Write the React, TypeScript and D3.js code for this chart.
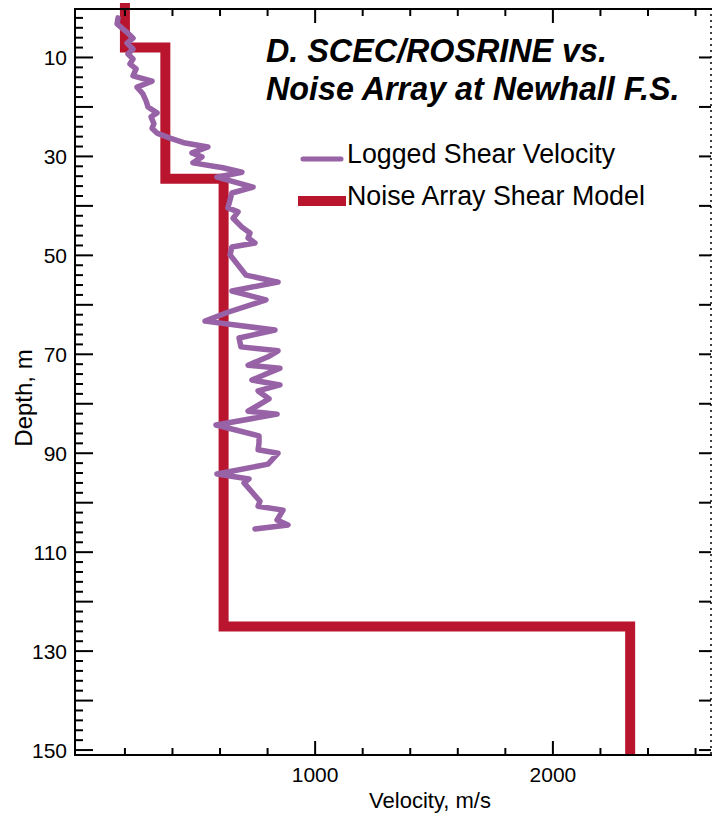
import * as React from 'react';
import * as d3 from 'd3';
import {useEffect, useRef} from 'react';

// logged shear velocity (m/s) vs depth (m)
const loggedDepth = [2.0, 3.2, 5.1, 6.1, 7.1, 8.3, 9.3, 10.3, 11.3, 12.3, 13.7, 14.8, 16.0, 17.4, 18.8, 20.0,
    21.2, 22.0, 23.4, 24.3, 25.3, 26.3, 27.3, 28.1, 29.3, 30.1, 31.3, 32.3, 33.2, 34.2, 34.8, 36.2, 37.4, 38.8,
    40.4, 41.2, 42.5, 44.3, 45.5, 46.5, 47.5, 48.3, 49.9, 54.0, 55.4, 57.2, 59.0, 61.5, 63.3, 65.1, 66.7, 68.5,
    69.3, 70.5, 72.2, 72.8, 75.2, 76.2, 77.4, 79.0, 81.5, 82.1, 84.3, 86.5, 87.9, 89.3, 90.0, 92.2, 94.2, 95.2,
    96.0, 99.7, 100.7, 101.5, 103.5, 104.5, 105.3];
const loggedVelocity = [171, 167, 213, 234, 209, 234, 213, 234, 221, 247, 234, 314, 251, 276, 289, 297,
    335, 310, 322, 314, 335, 390, 453, 549, 482, 524, 486, 612, 692, 587, 633, 739, 650, 642,
    633, 676, 655, 692, 726, 718, 747, 650, 642, 709, 844, 650, 793, 633, 537, 831, 680, 688,
    844, 802, 718, 852, 734, 852, 760, 806, 718, 840, 583, 764, 764, 760, 844, 802, 587, 722,
    701, 768, 760, 865, 840, 886, 747];

// noise array layered model
const modelLayerTop = [0, 8, 34.5, 125];
const modelVelocity = [200, 370, 615, 2325];
const modelBottom = 150;

const depthLabels = [10, 30, 50, 70, 90, 110, 130, 150];
const velocityLabels = [1000, 2000];

const titleLines = ['D. SCEC/ROSRINE vs.', 'Noise Array at Newhall F.S.'];
const seriesNames = ['Logged Shear Velocity', 'Noise Array Shear Model'];

const WIDTH = 712;
const HEIGHT = 815;
const plot = {left: 75, right: 711, top: 8, bottom: 755};
const FONT = '"Liberation Sans", Arial, Helvetica, sans-serif';
const PURPLE = '#9862a6';
const RED = '#b9152e';

function drawAxes(svg: any, x: any, y: any) {
    const g = svg.append('g').attr('stroke', '#000').attr('stroke-width', 2);
    // frame lines
    g.append('line').attr('x1', plot.left).attr('x2', plot.left).attr('y1', plot.top).attr('y2', plot.bottom + 1);
    g.append('line').attr('x1', plot.left - 1).attr('x2', WIDTH).attr('y1', plot.bottom).attr('y2', plot.bottom);
    g.append('line').attr('x1', plot.left - 1).attr('x2', WIDTH).attr('y1', plot.top + 1).attr('y2', plot.top + 1);
    g.append('line').attr('x1', plot.right).attr('x2', plot.right).attr('y1', plot.top).attr('y2', plot.bottom)
        .attr('stroke-width', 1.5).attr('stroke-dasharray', '2,4');

    // depth ticks
    const depthTicks = d3.range(2, 152, 2);
    g.selectAll('.ly').data(depthTicks).enter().append('line')
        .attr('x1', plot.left).attr('x2', (d: number) => plot.left + (d % 10 === 0 ? 18 : 8))
        .attr('y1', (d: number) => y(d)).attr('y2', (d: number) => y(d));
    g.selectAll('.ry').data(d3.range(10, 151, 10)).enter().append('line')
        .attr('x1', plot.right).attr('x2', plot.right - 12)
        .attr('y1', (d: number) => y(d)).attr('y2', (d: number) => y(d));

    // velocity ticks
    const velTicks = d3.range(200, 2700, 200);
    g.selectAll('.bx').data(velTicks).enter().append('line')
        .attr('x1', (d: number) => x(d)).attr('x2', (d: number) => x(d))
        .attr('y1', plot.bottom).attr('y2', (d: number) => plot.bottom - (d % 1000 === 0 ? 14 : 7));
    g.selectAll('.tx').data(velTicks).enter().append('line')
        .attr('x1', (d: number) => x(d)).attr('x2', (d: number) => x(d))
        .attr('y1', plot.top + 1).attr('y2', (d: number) => plot.top + 1 + (d % 1000 === 0 ? 14 : 7));

    const labels = svg.append('g').attr('font-family', FONT).attr('fill', '#000');
    labels.selectAll('.yl').data(depthLabels).enter().append('text')
        .attr('x', plot.left - 8).attr('y', (d: number) => y(d)).attr('dy', '0.36em')
        .attr('text-anchor', 'end').attr('font-size', 21).text((d: number) => d);
    labels.selectAll('.xl').data(velocityLabels).enter().append('text')
        .attr('x', (d: number) => x(d)).attr('y', 782)
        .attr('text-anchor', 'middle').attr('font-size', 21).text((d: number) => d);
    labels.append('text').attr('x', 430).attr('y', 808).attr('text-anchor', 'middle')
        .attr('font-size', 22).text('Velocity, m/s');
    labels.append('text').attr('transform', 'translate(32 398) rotate(-90)').attr('text-anchor', 'middle')
        .attr('font-size', 24).text('Depth, m');
}

function drawSeries(svg: any, x: any, y: any) {
    const modelPts: [number, number][] = [];
    modelLayerTop.forEach((top, i) => {
        const bottom = i < modelLayerTop.length - 1 ? modelLayerTop[i + 1] : modelBottom;
        modelPts.push([modelVelocity[i], top]);
        modelPts.push([modelVelocity[i], bottom]);
    });
    const line = d3.line<[number, number]>().x(d => x(d[0])).y(d => y(d[1]));
    svg.append('path').attr('d', line(modelPts)).attr('fill', 'none').attr('stroke', RED)
        .attr('stroke-width', 10).attr('stroke-linejoin', 'miter').attr('stroke-linecap', 'square');

    const loggedPts: [number, number][] = loggedDepth.map((d, i) => [loggedVelocity[i], d]);
    svg.append('path').attr('d', line(loggedPts)).attr('fill', 'none').attr('stroke', PURPLE)
        .attr('stroke-width', 5.5).attr('stroke-linejoin', 'round').attr('stroke-linecap', 'round');
}

function drawTitleAndLegend(svg: any) {
    svg.append('g').selectAll('text').data(titleLines).enter().append('text')
        .attr('x', 266).attr('y', (d: string, i: number) => 62 + i * 38)
        .attr('font-family', FONT).attr('font-size', 32.3).attr('font-weight', 'bold').attr('font-style', 'italic')
        .text((d: string) => d);

    const legend = svg.append('g');
    legend.append('line').attr('x1', 303).attr('x2', 341).attr('y1', 159).attr('y2', 159)
        .attr('stroke', PURPLE).attr('stroke-width', 5).attr('stroke-linecap', 'round');
    legend.append('line').attr('x1', 298).attr('x2', 346).attr('y1', 201).attr('y2', 201)
        .attr('stroke', RED).attr('stroke-width', 10);
    legend.selectAll('text').data(seriesNames).enter().append('text')
        .attr('x', 347).attr('y', (d: string, i: number) => 163 + i * 42)
        .attr('font-family', FONT).attr('font-size', 26.8).text((d: string) => d);
}

export default function App() {
    const svgRef = useRef<SVGSVGElement>(null);

    useEffect(() => {
        const svg = d3.select(svgRef.current);
        svg.selectAll('*').remove();
        const x = d3.scaleLinear().domain([-10, 2665]).range([plot.left, plot.right]);
        const y = d3.scaleLinear().domain([0, 151]).range([plot.top, plot.bottom]);
        drawSeries(svg, x, y);
        drawAxes(svg, x, y);
        drawTitleAndLegend(svg);
    }, []);

    return (
        <svg ref={svgRef} width={WIDTH} height={HEIGHT} viewBox={`0 0 ${WIDTH} ${HEIGHT}`}
             style={{position: 'absolute', left: 0, top: 0, display: 'block', background: '#fff'}}/>
    );
}
